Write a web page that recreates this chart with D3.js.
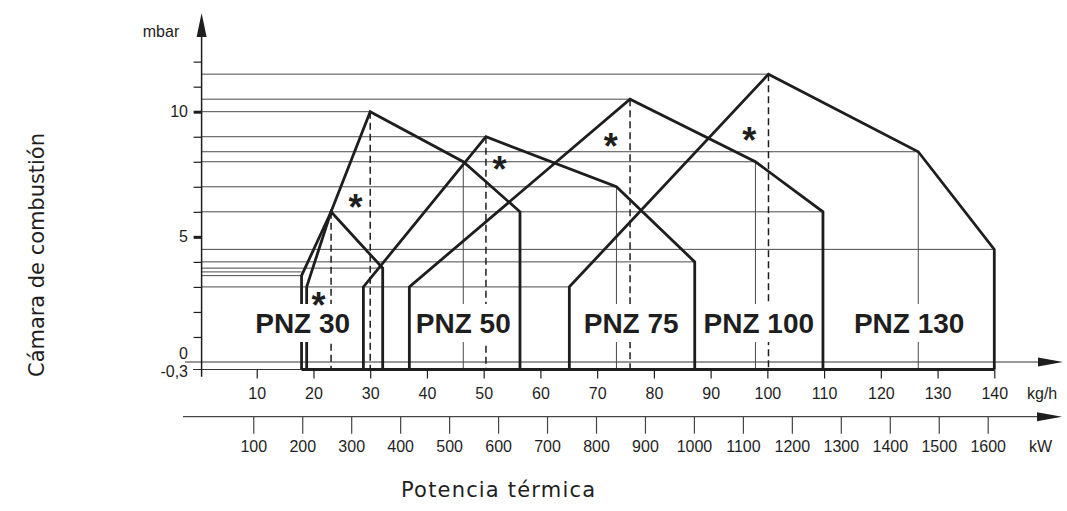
<!DOCTYPE html>
<html><head><meta charset="utf-8">
<script src="https://cdn.jsdelivr.net/npm/d3@7"></script>
<style>body{margin:0;background:#fff} svg{display:block}</style>
</head><body>
<svg id="c" width="1067" height="511"></svg>
<script>
// ---- data ----
const kgTicks = [10,20,30,40,50,60,70,80,90,100,110,120,130,140];
const kwTicks = [100,200,300,400,500,600,700,800,900,1000,1100,1200,1300,1400,1500,1600];
const mbarTicks = [1,2,3,4,5,6,7,8,9,10,11,12];
const mbarMajor = [5,10];
const mbarLabels = [[10,"10"],[5,"5"],[0,"0"],[-0.3,"-0,3"]];
const models = ["PNZ 30","PNZ 50","PNZ 75","PNZ 100","PNZ 130"];
const modelLabelKg = [18.1,46.4,76.0,98.5,125.0];
// working field outlines [kg/h, mbar]
const env30a = [[18.8,-0.3],[18.8,3.0],[23.1,6],[32.2,3.75],[32.2,-0.3]];
const env30b = [[17.9,-0.3],[17.9,3.45],[23.1,6],[30,10],[46.4,8],[56.4,6],[56.4,-0.3]];
const env50  = [[28.8,-0.3],[28.8,3],[50.4,9],[73.4,7],[87.2,4],[87.2,-0.3]];
const env75  = [[36.9,-0.3],[36.9,3],[75.8,10.5],[97.9,8],[109.8,6],[109.8,-0.3]];
const env100 = [[65.1,-0.3],[65.1,3],[100.2,11.5],[126.6,8.4],[140,4.5],[140,-0.3]];
const baseLine = [[17.9,-0.3],[140,-0.3]];
// dashed verticals at peaks [kg/h, mbar top]
const peakDash = [[23.1,6],[30,10],[50.4,9],[75.8,10.5],[100.2,11.5]];
// thin verticals at shoulders
const shoulderLines = [[46.4,8],[73.4,7],[97.9,8],[126.6,8.4]];
// horizontal reference lines [mbar, kg/h end]
const hRefs = [[11.5,100.2],[10.5,75.8],[10,30],[9,50.4],[8.4,126.6],[8,97.9],[7,73.4],[6,109.8],
               [4.5,140],[4,87.2],[3.75,32.2],[3.6,17.9],[3.45,17.9],[3,65.1]];
// asterisk marks [kg/h, mbar]
const stars = [[20.9,2.55],[27.4,6.47],[52.8,8.0],[72.4,8.9],[96.8,9.14]];

// ---- layout ----
const svg = d3.select("#c");
const x = d3.scaleLinear().domain([0,140]).range([200,994.3]);
const xkw = d3.scaleLinear().domain([0,1600]).range([204.3,987.7]);
const y = d3.scaleLinear().domain([0,10]).range([362,111.7]);
const axX = 201.6;
const kwY = 416.7;
const ink = "#1e1e1e";
const grid = "#4a4a4a";
const font = "'Liberation Sans', Arial, sans-serif";
const titleFont = "'DejaVu Sans', sans-serif";

// horizontal reference lines
svg.append("g").selectAll("line").data(hRefs).join("line")
  .attr("x1",axX).attr("x2",d=>x(d[1])).attr("y1",d=>y(d[0])).attr("y2",d=>y(d[0]))
  .attr("stroke",grid).attr("stroke-width",1);

// zero line (kg/h axis) and -0.3 line
svg.append("line").attr("x1",185).attr("x2",1040).attr("y1",y(0)).attr("y2",y(0))
  .attr("stroke","#333").attr("stroke-width",1.2);
svg.append("polygon").attr("points",`1063,${y(0)} 1038,${y(0)-4.5} 1038,${y(0)+4.5}`).attr("fill",ink);
svg.append("line").attr("x1",193).attr("x2",x(140)).attr("y1",y(-0.3)).attr("y2",y(-0.3))
  .attr("stroke","#333").attr("stroke-width",1.2);

// thin shoulder verticals
svg.append("g").selectAll("line").data(shoulderLines).join("line")
  .attr("x1",d=>x(d[0])).attr("x2",d=>x(d[0])).attr("y1",d=>y(d[1])).attr("y2",y(-0.3))
  .attr("stroke",grid).attr("stroke-width",1);
// dashed peak verticals
svg.append("g").selectAll("line").data(peakDash).join("line")
  .attr("x1",d=>x(d[0])).attr("x2",d=>x(d[0])).attr("y1",d=>y(d[1])).attr("y2",y(-0.3))
  .attr("stroke",ink).attr("stroke-width",1.5).attr("stroke-dasharray","7,4");

// outlines
const line = d3.line().x(d=>x(d[0])).y(d=>y(d[1]));
svg.append("g").selectAll("path").data([env30a,env30b,env50,env75,env100,baseLine]).join("path")
  .attr("d",line).attr("fill","none").attr("stroke",ink).attr("stroke-width",2.8)
  .attr("stroke-linejoin","miter");

// y axis
svg.append("line").attr("x1",axX).attr("x2",axX).attr("y1",34).attr("y2",376.7)
  .attr("stroke",ink).attr("stroke-width",1.5);
svg.append("polygon").attr("points",`${axX},13 ${axX-5},37 ${axX+5},37`).attr("fill",ink);
const yAxis = svg.append("g").attr("transform",`translate(${axX},0)`)
  .call(d3.axisLeft(y).tickValues(mbarTicks).tickSize(8).tickFormat(""));
yAxis.select(".domain").remove();
yAxis.selectAll(".tick line").attr("stroke",ink)
  .attr("stroke-width",d=>mbarMajor.includes(d)?3:1.2);
svg.append("g").selectAll("text").data(mbarLabels).join("text")
  .attr("x",188).attr("y",d=>d[0]===0? y(0)-3 : (d[0]<0? y(d[0])+7 : y(d[0])+5.5))
  .attr("text-anchor","end").attr("font-family",font).attr("font-size",16).attr("fill",ink)
  .text(d=>d[1]);
svg.append("text").attr("x",161).attr("y",37).attr("text-anchor","middle")
  .attr("font-family",font).attr("font-size",16).attr("fill",ink).text("mbar");

// kg/h ticks
const xa = svg.append("g").attr("transform",`translate(0,${y(-0.3)})`)
  .call(d3.axisBottom(x).tickValues(kgTicks).tickSize(9).tickPadding(9).tickFormat(d3.format("d")));
xa.select(".domain").remove();
xa.selectAll(".tick line").attr("stroke",ink).attr("stroke-width",1.2);
xa.selectAll(".tick text").attr("font-family",font).attr("font-size",16).attr("fill",ink);
svg.append("text").attr("x",1027).attr("y",399).attr("font-family",font).attr("font-size",16)
  .attr("fill",ink).text("kg/h");

// kW axis
svg.append("line").attr("x1",183).attr("x2",1040).attr("y1",kwY).attr("y2",kwY)
  .attr("stroke","#444").attr("stroke-width",1.2);
svg.append("polygon").attr("points",`1062,${kwY} 1037,${kwY-4.5} 1037,${kwY+4.5}`).attr("fill",ink);
const ka = svg.append("g").attr("transform",`translate(0,${kwY})`)
  .call(d3.axisBottom(xkw).tickValues(kwTicks).tickSize(17).tickPadding(7).tickFormat(d3.format("d")));
ka.select(".domain").remove();
ka.selectAll(".tick line").attr("stroke","#444").attr("stroke-width",1.2);
ka.selectAll(".tick text").attr("font-family",font).attr("font-size",16).attr("fill",ink);
svg.append("text").attr("x",1029).attr("y",452).attr("font-family",font).attr("font-size",16)
  .attr("fill",ink).text("kW");

// model labels with white backgrounds
const lg = svg.append("g");
models.forEach((m,i)=>{
  const g = lg.append("g");
  const t = g.append("text").attr("x",x(modelLabelKg[i])).attr("y",333.3)
    .attr("text-anchor","middle").attr("font-family",font).attr("font-weight","bold")
    .attr("font-size",28).attr("fill",ink).text(m);
  const b = t.node().getBBox();
  g.insert("rect","text").attr("x",b.x-4).attr("width",b.width+8).attr("y",304).attr("height",38)
    .attr("fill","#fff");
});

// asterisks
const sfs = 36;
svg.append("g").selectAll("text").data(stars).join("text")
  .attr("x",d=>x(d[0])).attr("y",d=>y(d[1])+0.56*sfs).attr("text-anchor","middle")
  .attr("font-family",font).attr("font-weight","bold").attr("font-size",sfs).attr("fill",ink)
  .text("*");

// axis titles
svg.append("text").attr("transform","translate(44,255) rotate(-90)").attr("text-anchor","middle")
  .attr("font-family",titleFont).attr("font-size",21).attr("fill",ink)
  .attr("textLength",244).attr("lengthAdjust","spacing").text("Cámara de combustión");
svg.append("text").attr("x",498).attr("y",497).attr("text-anchor","middle")
  .attr("font-family",titleFont).attr("font-size",21).attr("fill",ink)
  .attr("textLength",194).attr("lengthAdjust","spacing").text("Potencia térmica");
</script>
</body></html>
